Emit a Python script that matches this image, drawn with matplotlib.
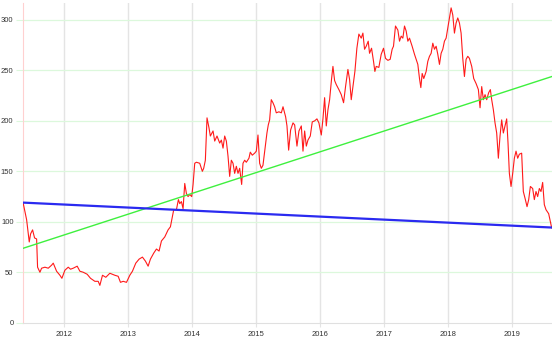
#!/usr/bin/env python3
"""Price history with a linear trend line and a regression line."""

import matplotlib
matplotlib.use("Agg")
import matplotlib.pyplot as plt

# ---------------------------------------------------------------------------
# Data (x in decimal years)
# ---------------------------------------------------------------------------

years = [
    2011.366, 2011.418, 2011.459, 2011.480, 2011.511, 2011.542, 2011.574, 2011.589,
    2011.626, 2011.652, 2011.704, 2011.756, 2011.808, 2011.834, 2011.886, 2011.938,
    2011.969, 2012.016, 2012.068, 2012.104, 2012.146, 2012.208, 2012.250, 2012.302,
    2012.364, 2012.416, 2012.484, 2012.536, 2012.562, 2012.603, 2012.655, 2012.718,
    2012.796, 2012.848, 2012.884, 2012.926, 2012.978, 2013.030, 2013.071, 2013.123,
    2013.175, 2013.227, 2013.274, 2013.316, 2013.352, 2013.404, 2013.446, 2013.487,
    2013.524, 2013.576, 2013.628, 2013.664, 2013.695, 2013.716, 2013.758, 2013.789,
    2013.810, 2013.836, 2013.862, 2013.888, 2013.914, 2013.940, 2013.966, 2013.997,
    2014.018, 2014.044, 2014.070, 2014.122, 2014.163, 2014.184, 2014.210, 2014.236,
    2014.267, 2014.288, 2014.330, 2014.356, 2014.392, 2014.434, 2014.460, 2014.486,
    2014.512, 2014.538, 2014.564, 2014.590, 2014.616, 2014.642, 2014.668, 2014.694,
    2014.720, 2014.746, 2014.777, 2014.798, 2014.824, 2014.850, 2014.891, 2014.912,
    2014.943, 2014.980, 2015.006, 2015.032, 2015.058, 2015.084, 2015.110, 2015.146,
    2015.172, 2015.193, 2015.214, 2015.240, 2015.266, 2015.292, 2015.318, 2015.359,
    2015.397, 2015.423, 2015.464, 2015.485, 2015.511, 2015.542, 2015.579, 2015.605,
    2015.641, 2015.672, 2015.709, 2015.735, 2015.761, 2015.787, 2015.813, 2015.849,
    2015.880, 2015.917, 2015.953, 2015.984, 2016.021, 2016.047, 2016.073, 2016.099,
    2016.125, 2016.151, 2016.182, 2016.203, 2016.229, 2016.255, 2016.296, 2016.333,
    2016.369, 2016.400, 2016.437, 2016.463, 2016.489, 2016.515, 2016.546, 2016.577,
    2016.608, 2016.645, 2016.671, 2016.697, 2016.723, 2016.754, 2016.775, 2016.806,
    2016.837, 2016.858, 2016.879, 2016.920, 2016.957, 2016.993, 2017.024, 2017.061,
    2017.097, 2017.128, 2017.149, 2017.180, 2017.217, 2017.243, 2017.269, 2017.295,
    2017.321, 2017.347, 2017.373, 2017.399, 2017.440, 2017.477, 2017.503, 2017.529,
    2017.555, 2017.576, 2017.597, 2017.622, 2017.659, 2017.685, 2017.711, 2017.737,
    2017.763, 2017.789, 2017.815, 2017.841, 2017.867, 2017.893, 2017.919, 2017.945,
    2017.971, 2017.997, 2018.023, 2018.049, 2018.075, 2018.101, 2018.127, 2018.153,
    2018.179, 2018.205, 2018.231, 2018.257, 2018.283, 2018.309, 2018.335, 2018.371,
    2018.402, 2018.439, 2018.475, 2018.501, 2018.527, 2018.553, 2018.579, 2018.605,
    2018.636, 2018.662, 2018.683, 2018.709, 2018.735, 2018.761, 2018.787, 2018.813,
    2018.839, 2018.865, 2018.891, 2018.917, 2018.938, 2018.959, 2018.985, 2019.011,
    2019.037, 2019.063, 2019.089, 2019.115, 2019.151, 2019.177, 2019.209, 2019.235,
    2019.261, 2019.287, 2019.323, 2019.349, 2019.375, 2019.401, 2019.427, 2019.453,
    2019.479, 2019.505, 2019.531, 2019.573, 2019.599, 2019.620,
]

prices = [
    118, 102, 80, 88, 92, 84, 83, 55,
    50, 54, 55, 54, 57, 59, 51, 47,
    44, 52, 55, 53, 54, 56, 51, 50,
    48, 44, 41, 41, 37, 47, 45, 49,
    47, 46, 40, 41, 40, 47, 51, 59,
    63, 65, 61, 56, 63, 69, 73, 71,
    81, 85, 92, 95, 105, 112, 112, 122,
    118, 120, 113, 138, 128, 125, 127, 125,
    137, 158, 159, 158, 150, 153, 161, 203,
    193, 185, 190, 180, 185, 178, 181, 173,
    185, 180, 165, 145, 161, 158, 148, 155,
    148, 153, 137, 158, 161, 159, 163, 169,
    166, 168, 170, 186, 158, 153, 156, 175,
    188, 196, 201, 221, 218, 214, 208, 209,
    208, 214, 204, 195, 171, 191, 198, 196,
    175, 190, 195, 170, 190, 175, 181, 185,
    199, 200, 202, 198, 186, 202, 223, 195,
    211, 221, 242, 254, 240, 236, 231, 226,
    218, 234, 251, 241, 221, 234, 249, 272,
    286, 282, 287, 271, 274, 279, 267, 272,
    259, 249, 254, 253, 266, 272, 262, 260,
    261, 271, 274, 294, 290, 279, 284, 282,
    294, 289, 279, 282, 274, 266, 261, 256,
    242, 233, 247, 242, 249, 259, 264, 267,
    277, 271, 274, 266, 256, 267, 271, 279,
    282, 292, 302, 312, 305, 287, 297, 302,
    297, 287, 262, 244, 261, 264, 262, 254,
    242, 237, 231, 213, 234, 221, 226, 221,
    228, 231, 221, 211, 198, 188, 163, 185,
    201, 188, 195, 202, 178, 148, 135, 148,
    163, 170, 163, 167, 168, 130, 122, 115,
    122, 135, 133, 122, 130, 125, 133, 130,
    139, 117, 112, 108, 100, 94,
]

# Straight lines drawn across the full range
line_x = [2011.366, 2019.625]
trend_green = [73.8, 244.0]
trend_blue = [119.0, 94.3]

year_ticks = [2012, 2013, 2014, 2015, 2016, 2017, 2018, 2019]
value_ticks = [0, 50, 100, 150, 200, 250, 300]

# ---------------------------------------------------------------------------
# Styling
# ---------------------------------------------------------------------------

PRICE_COLOR = "#ff1a1a"
GREEN_COLOR = "#3ef03e"
BLUE_COLOR = "#2a2af0"
VGRID_COLOR = "#e4e4e4"
HGRID_COLOR = "#dcf8dc"
LABEL_COLOR = "#333333"


def main() -> None:
    fig = plt.figure(figsize=(5.52, 3.41), dpi=100)
    ax = fig.add_axes([0.0422, 0.0537, 0.9578, 0.938])

    ax.plot(years, prices, color=PRICE_COLOR, linewidth=0.8, zorder=3)
    ax.plot(line_x, trend_green, color=GREEN_COLOR, linewidth=1.0, zorder=4)
    ax.plot(line_x, trend_blue, color=BLUE_COLOR, linewidth=1.6, zorder=5)

    ax.set_xlim(line_x[0], line_x[1])
    ax.set_ylim(0, 317)

    ax.set_xticks(year_ticks)
    ax.set_xticklabels([str(y) for y in year_ticks])
    ax.set_yticks(value_ticks)
    ax.set_yticklabels([str(v) for v in value_ticks])

    for y in year_ticks:
        ax.axvline(y, color=VGRID_COLOR, linewidth=1.0, zorder=1)
    for v in value_ticks[1:]:
        ax.axhline(v, color=HGRID_COLOR, linewidth=0.9, zorder=1)

    ax.tick_params(axis="x", length=3, color=VGRID_COLOR, pad=3,
                   labelsize=5.5, labelcolor=LABEL_COLOR)
    ax.tick_params(axis="y", length=5, color=HGRID_COLOR, pad=2,
                   labelsize=5.5, labelcolor=LABEL_COLOR)
    for lbl in ax.get_xticklabels() + ax.get_yticklabels():
        lbl.set_fontfamily("Liberation Sans")

    ax.spines["top"].set_visible(False)
    ax.spines["right"].set_visible(False)
    ax.spines["left"].set_color("#ffd0d0")
    ax.spines["bottom"].set_color("#e0e0e0")

    fig.savefig("out.png", dpi=100)
    plt.close(fig)


if __name__ == "__main__":
    main()
